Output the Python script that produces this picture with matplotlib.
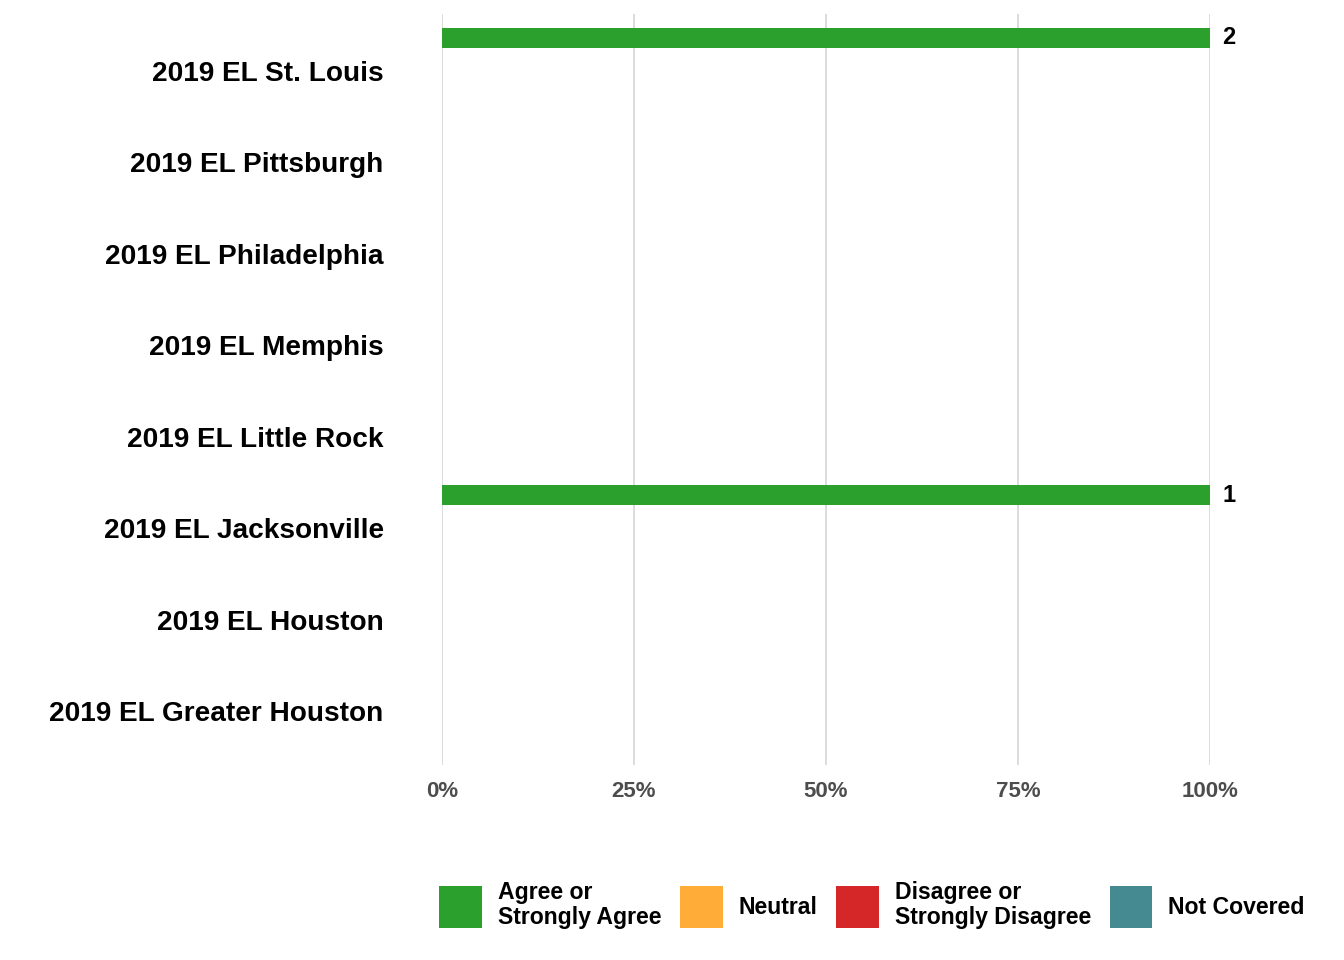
import matplotlib
matplotlib.use('Agg')
import matplotlib.pyplot as plt
from matplotlib.patches import Patch
import numpy as np

# ---- data ----
sites = ['2019 EL Greater Houston', '2019 EL Houston', '2019 EL Jacksonville',
         '2019 EL Little Rock', '2019 EL Memphis', '2019 EL Philadelphia',
         '2019 EL Pittsburgh', '2019 EL St. Louis']
responses = ['Agree or\nStrongly Agree', 'Neutral',
             'Disagree or\nStrongly Disagree', 'Not Covered']
colors = ['#2ca02c', '#ffad38', '#d62728', '#468a91']

# share of responses (0-1) per site, nan = no responses
agree_pct    = [np.nan, np.nan, 1.0, np.nan, np.nan, np.nan, np.nan, 1.0]
neutral_pct  = [np.nan] * 8
disagree_pct = [np.nan] * 8
notcov_pct   = [np.nan] * 8
agree_n      = [0, 0, 1, 0, 0, 0, 0, 2]
neutral_n    = [0] * 8
disagree_n   = [0] * 8
notcov_n     = [0] * 8

pcts = [agree_pct, neutral_pct, disagree_pct, notcov_pct]
counts = [agree_n, neutral_n, disagree_n, notcov_n]

narrow = ['Liberation Sans Narrow', 'Liberation Sans', 'DejaVu Sans']
plt.rcParams['font.family'] = ['Liberation Sans', 'DejaVu Sans']

fig = plt.figure(figsize=(13.44, 9.6), dpi=100)
ax = fig.add_axes([442/1344, 1 - 765/960, 768/1344, 751/960])

ypos = np.arange(len(sites))
step = 0.24
for k in range(len(responses)):
    off = (1.5 - k) * step
    vals = np.array(pcts[k], dtype=float)
    mask = ~np.isnan(vals)
    ax.barh(ypos[mask] + off, vals[mask], height=step * 0.9,
            color=colors[k], zorder=3)
    for y, v, n in zip(ypos[mask] + off, vals[mask], np.array(counts[k])[mask]):
        ax.annotate(str(n), xy=(v, y), xytext=(9, 0), textcoords='offset points',
                    ha='left', va='center', fontsize=17, fontweight='bold',
                    family=narrow, color='black', annotation_clip=False)

ax.set_xlim(0, 1)
ax.set_ylim(-0.59, 7.62)
ax.set_xticks([0, 0.25, 0.5, 0.75, 1.0])
ax.set_xticklabels(['0%', '25%', '50%', '75%', '100%'], family=narrow,
                   fontsize=16, fontweight='bold', color='#4d4d4d')
ax.set_yticks(ypos)
ax.set_yticklabels(sites, fontsize=20.2, fontweight='bold', color='black')
ax.tick_params(axis='y', length=0, pad=42)
ax.tick_params(axis='x', length=0, pad=11.5)
ax.grid(axis='x', color='#d9d9d9', linewidth=1.3, zorder=0)
ax.grid(axis='y', visible=False)
for s in ax.spines.values():
    s.set_visible(False)

handles = [Patch(facecolor=c, edgecolor='none') for c in colors]
leg = fig.legend(handles, responses, loc='center',
                 bbox_to_anchor=(872/1344, 1 - 905/960),
                 ncol=4, frameon=False, handlelength=1.85, handleheight=2.4,
                 handletextpad=0.7, columnspacing=0.8,
                 prop={'family': narrow, 'weight': 'bold', 'size': 16.6})
for t in leg.get_texts():
    t.set_linespacing(1.1)

fig.savefig('out.png', dpi=100)
